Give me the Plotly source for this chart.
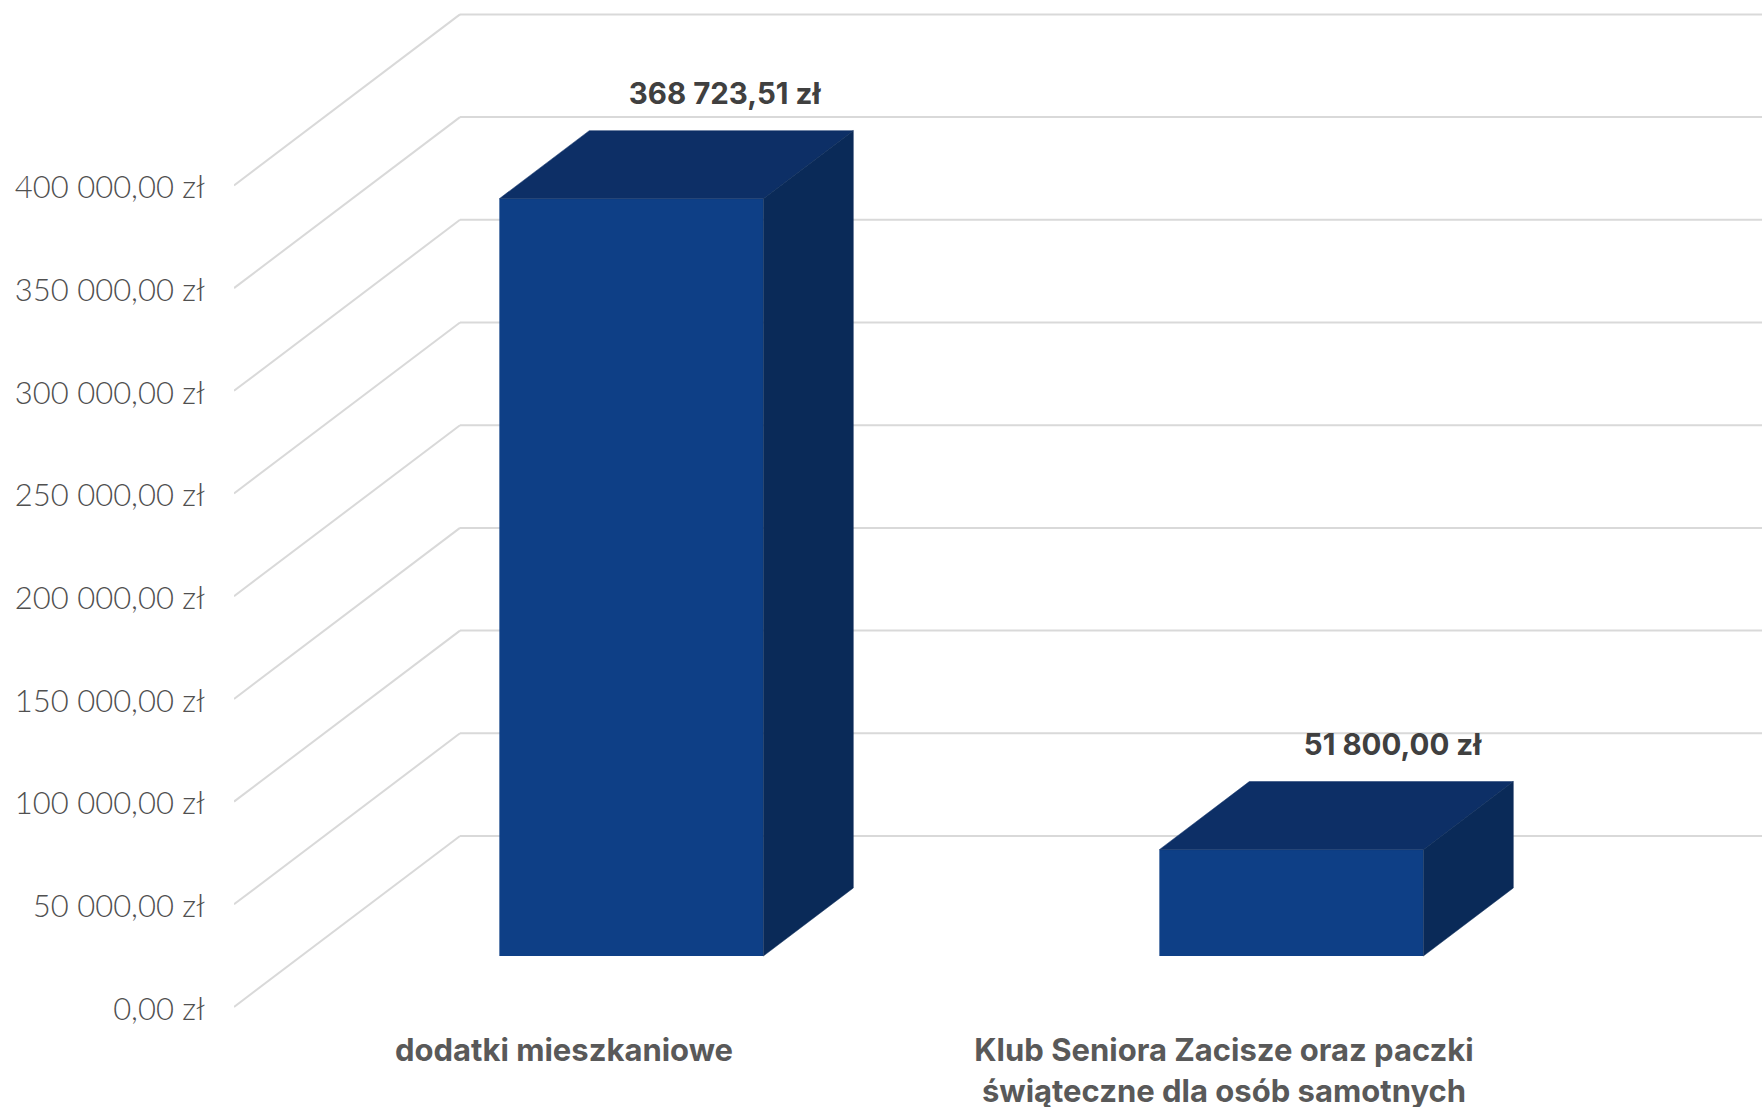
import plotly.graph_objects as go

# ---- data ----
categories = ["dodatki mieszkaniowe", "Klub Seniora Zacisze oraz paczki<br>świąteczne dla osób samotnych"]
values = [368723.51, 51800.00]
value_labels = ["368 723,51 zł", "51 800,00 zł"]
y_ticks = [0, 50000, 100000, 150000, 200000, 250000, 300000, 350000, 400000]
y_tick_labels = ["0,00 zł", "50 000,00 zł", "100 000,00 zł", "150 000,00 zł", "200 000,00 zł",
                 "250 000,00 zł", "300 000,00 zł", "350 000,00 zł", "400 000,00 zł"]

# ---- oblique projection of the 3D box into the 2D axes ----
W, H = 1762, 1107
PLOT_LEFT, PLOT_BOTTOM = 234, 1020
PX_PER_CAT = 660.0
PX_PER_VAL = 102.7 / 50000
Y0_PX = 1007
DX = 226 / PX_PER_CAT          # full-depth shift, category units
DY = 171 / PX_PER_VAL          # full-depth shift, value units
D_FRONT, D_BACK = 0.298, 0.696 # bar depth position
BAR_W = 0.40
label_dx = [0.005, 0.017]
label_dy = 9400

FRONT, TOP, SIDE = "#0E3F86", "#0D2F66", "#0A2A58"
GRID = "#D9D9D9"


def proj(cat, val, d):
    return cat + d * DX, val + d * DY


x_range = [-0.5, -0.5 + (W - PLOT_LEFT) / PX_PER_CAT]
y_range = [(Y0_PX - PLOT_BOTTOM) / PX_PER_VAL, Y0_PX / PX_PER_VAL]

fig = go.Figure()
positions = list(range(len(categories)))

# front faces
fig.add_trace(go.Bar(
    x=[p + D_FRONT * DX for p in positions],
    y=values,
    base=[D_FRONT * DY] * len(values),
    width=BAR_W,
    marker=dict(color=FRONT, line=dict(width=0)),
    showlegend=False,
    hoverinfo="skip",
))

# top and side faces
for p, v in zip(positions, values):
    l, r = p - BAR_W / 2, p + BAR_W / 2
    top = [proj(l, v, D_FRONT), proj(r, v, D_FRONT), proj(r, v, D_BACK), proj(l, v, D_BACK)]
    side = [proj(r, 0, D_FRONT), proj(r, v, D_FRONT), proj(r, v, D_BACK), proj(r, 0, D_BACK)]
    for poly, col in ((top, TOP), (side, SIDE)):
        xs = [a for a, _ in poly] + [poly[0][0]]
        ys = [b for _, b in poly] + [poly[0][1]]
        fig.add_trace(go.Scatter(x=xs, y=ys, mode="lines", fill="toself", fillcolor=col,
                                 line=dict(color=col, width=0.5), showlegend=False, hoverinfo="skip"))

# value labels
lx, ly = [], []
for p, v, dx in zip(positions, values, label_dx):
    a, b = proj(p, v, D_BACK)
    lx.append(a + dx)
    ly.append(b + label_dy)
fig.add_trace(go.Scatter(x=lx, y=ly, mode="text", text=value_labels, textposition="top center",
                         textfont=dict(family="Inter", size=29.5, color="#404040", weight="bold"),
                         showlegend=False, hoverinfo="skip", cliponaxis=False))

# gridlines: diagonal side wall + back wall, below the bars
shapes = []
for t in y_ticks:
    x1, y1 = proj(-0.5, t, 1)
    shapes.append(dict(type="line", xref="x", yref="y", layer="below", x0=-0.5, y0=t, x1=x1, y1=y1,
                       line=dict(color=GRID, width=2)))
    shapes.append(dict(type="line", xref="x", yref="y", layer="below", x0=x1, y0=y1, x1=x_range[1], y1=y1,
                       line=dict(color=GRID, width=2)))

fig.update_layout(
    width=W, height=H, autosize=False,
    paper_bgcolor="white", plot_bgcolor="white",
    margin=dict(l=PLOT_LEFT, r=0, t=0, b=H - PLOT_BOTTOM, pad=0),
    barmode="overlay",
    shapes=shapes,
    xaxis=dict(range=x_range, tickmode="array", tickvals=positions, ticktext=categories,
               automargin=False,
               showgrid=False, zeroline=False, showline=False, ticks="outside", ticklen=3,
               tickcolor="rgba(0,0,0,0)",
               tickfont=dict(family="Inter", size=31, color="#595959", weight="bold")),
    yaxis=dict(range=y_range, tickmode="array", tickvals=y_ticks, ticktext=y_tick_labels,
               automargin=False, ticklabelshift=2,
               showgrid=False, zeroline=False, showline=False, ticks="outside", ticklen=22,
               tickcolor="rgba(0,0,0,0)",
               tickfont=dict(family="Lato", size=31, color="#505050", weight=300)),
)

fig.write_html("out.html", config={"displayModeBar": False},
               post_script="document.documentElement.style.overflow='hidden';document.body.style.margin='0';")
